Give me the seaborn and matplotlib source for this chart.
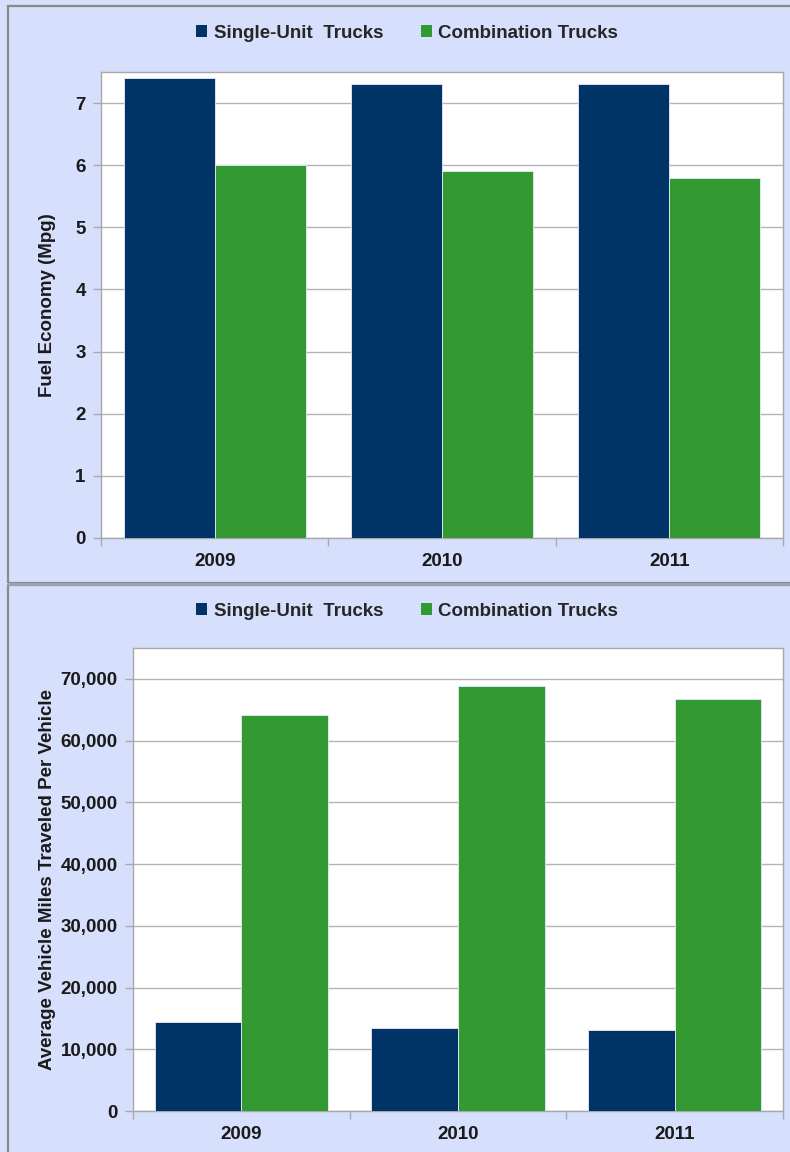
import matplotlib
matplotlib.use("Agg")
import matplotlib.pyplot as plt
from matplotlib.patches import Rectangle
from matplotlib.lines import Line2D
from matplotlib.ticker import FuncFormatter, FixedLocator
import seaborn as sns
import pandas as pd

# Source values
years = ["2009", "2010", "2011"]
series = ["Single-Unit  Trucks", "Combination Trucks"]
mpg_single = [7.4, 7.3, 7.3]
mpg_combo = [6.0, 5.9, 5.8]
vmt_single = [14400, 13500, 13200]
vmt_combo = [64200, 68800, 66700]

colors = ["#003366", "#339933"]
bg = "#D6E0FC"
ink = "#1a1a1a"
FS = 13.5

sns.set_theme(style="white")
plt.rcParams["font.family"] = ["Liberation Sans", "DejaVu Sans"]
plt.rcParams["font.weight"] = "bold"


def long_table(a, b):
    return pd.DataFrame({
        "year": years * 2,
        "series": [series[0]] * 3 + [series[1]] * 3,
        "value": list(a) + list(b),
    })


fig = plt.figure(figsize=(7.9, 11.52), dpi=100)
fig.patch.set_facecolor(bg)
W, H = 790, 1152


def fx(px):
    return px / W


def fy(py):
    return 1 - py / H


# Panel frames
fig.add_artist(Rectangle((fx(8), fy(583)), 1.0, fy(6) - fy(583), transform=fig.transFigure,
                         facecolor="none", edgecolor="#8a8a8a", linewidth=1.6, zorder=0))
fig.add_artist(Rectangle((fx(8), fy(1160)), 1.0, fy(585) - fy(1160), transform=fig.transFigure,
                         facecolor="none", edgecolor="#8a8a8a", linewidth=1.6, zorder=0))
fig.add_artist(Line2D([fx(8), 1.0], [fy(584), fy(584)], transform=fig.transFigure,
                      color="#9aa3b5", linewidth=2.2))


def panel(rect, df, ymax, yticks, ylabel, fmt, legend_y):
    ax = fig.add_axes(rect)
    ax.set_facecolor("white")
    sns.barplot(data=df, x="year", y="value", hue="series", hue_order=series,
                palette=colors, saturation=1, width=0.8, ax=ax,
                edgecolor="#e6ecf5", linewidth=0.6, zorder=3, errorbar=None)
    ax.set_ylim(0, ymax)
    ax.set_xlim(-0.5, 2.5)
    ax.set_yticks(yticks)
    ax.yaxis.set_major_formatter(FuncFormatter(fmt))
    ax.grid(axis="y", color="#b4b4b4", linewidth=1.0, zorder=0)
    ax.grid(axis="x", visible=False)
    for s in ax.spines.values():
        s.set_color("#a8a8a8")
        s.set_linewidth(1.0)
    ax.tick_params(axis="y", which="major", length=6, width=1, color="#a8a8a8",
                   labelsize=FS, labelcolor=ink, pad=5, left=True, direction="out")
    ax.tick_params(axis="x", which="major", length=0, labelsize=FS, labelcolor=ink, pad=11)
    ax.xaxis.set_minor_locator(FixedLocator([-0.5, 0.5, 1.5, 2.5]))
    ax.tick_params(axis="x", which="minor", length=6, width=1, color="#a8a8a8",
                   bottom=True, direction="out")
    for lab in ax.get_xticklabels() + ax.get_yticklabels():
        lab.set_fontweight("bold")
    ax.set_xlabel("")
    ax.set_ylabel(ylabel, fontsize=FS, fontweight="bold", color=ink)
    # right edge of the rotated label sits at a common column for both panels
    x0, w = ax.get_position().x0, ax.get_position().width
    ax.yaxis.set_label_coords((fx(56) - x0) / w, 0.5)
    handles, labels = ax.get_legend_handles_labels()
    ax.get_legend().remove()
    fig.legend(handles, labels, loc="center", bbox_to_anchor=(fx(407), fy(legend_y)),
               ncol=2, frameon=False, handlelength=0.6, handleheight=0.6,
               handletextpad=0.35, columnspacing=2.0,
               prop={"weight": "bold", "size": FS})
    for h in fig.legends[-1].legend_handles:
        h.set_edgecolor("none")
    return ax


top = panel([fx(101), fy(538), fx(783) - fx(101), fy(72) - fy(538)],
            long_table(mpg_single, mpg_combo), 7.5, range(0, 8),
            "Fuel Economy (Mpg)", lambda v, p: f"{v:.0f}", 33)
bottom = panel([fx(133), fy(1111), fx(783) - fx(133), fy(648) - fy(1111)],
               long_table(vmt_single, vmt_combo), 75000, range(0, 80000, 10000),
               "Average Vehicle Miles Traveled Per Vehicle", lambda v, p: f"{v:,.0f}", 611)

fig.savefig("out.png", dpi=100, facecolor=bg)
